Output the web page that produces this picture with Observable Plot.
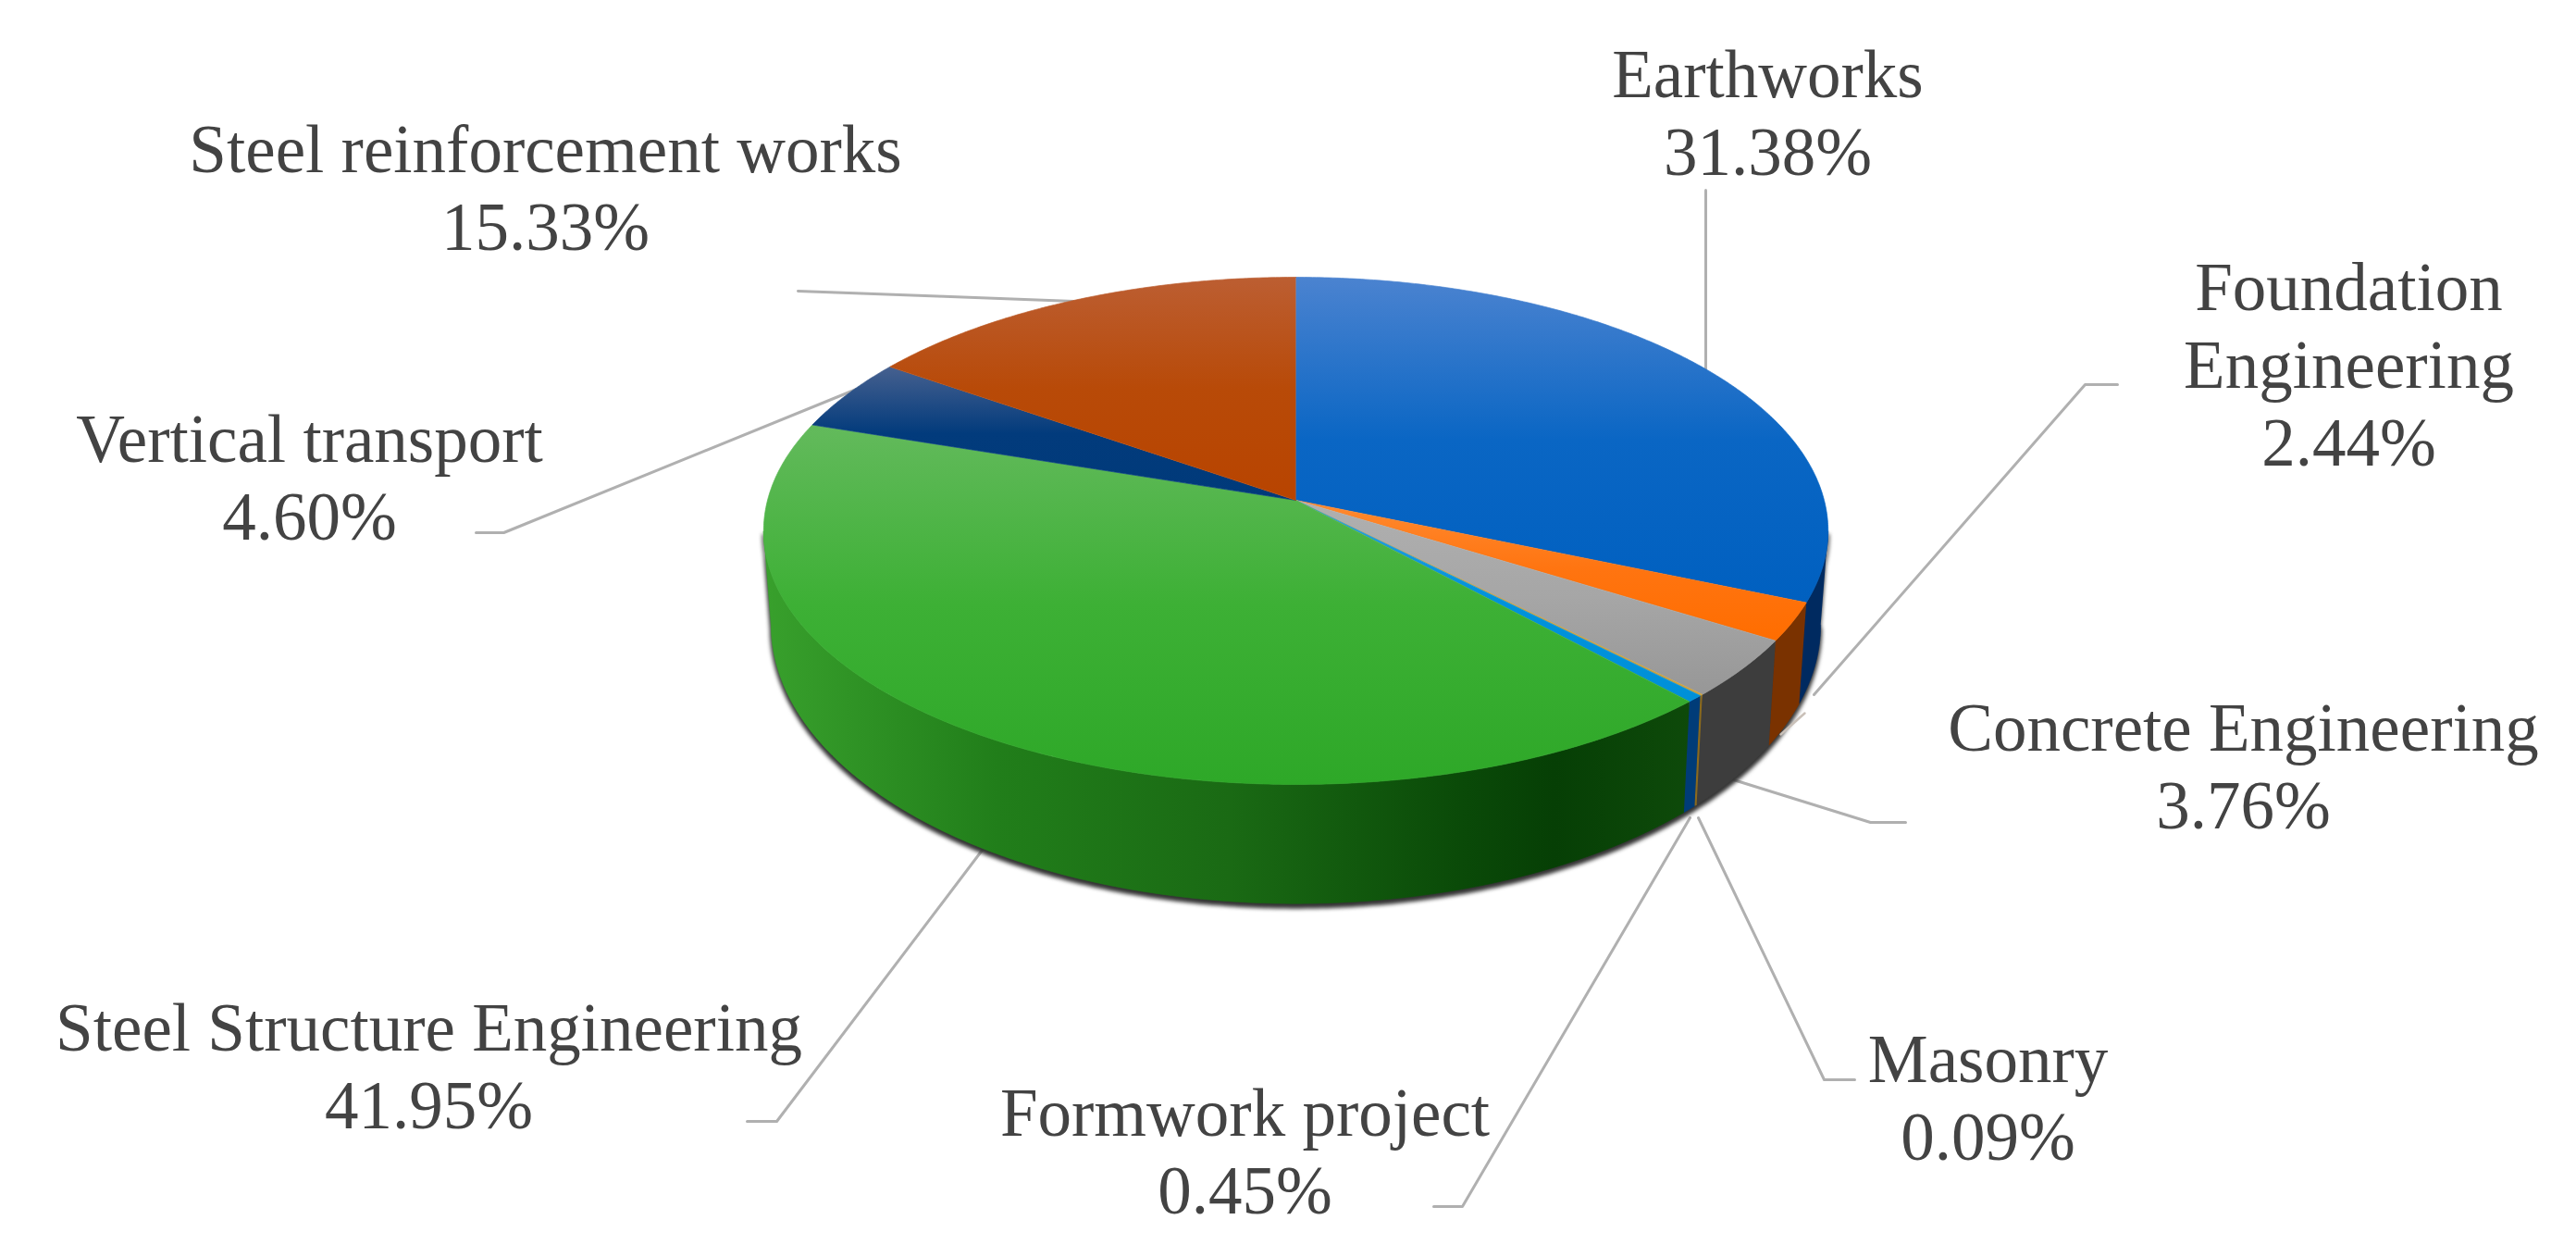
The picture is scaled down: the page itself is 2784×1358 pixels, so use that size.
<!DOCTYPE html>
<html>
<head>
<meta charset="utf-8">
<script src="https://cdn.jsdelivr.net/npm/d3@7"></script>
<script src="https://cdn.jsdelivr.net/npm/@observablehq/plot@0.6"></script>
<style>html,body{margin:0;padding:0;background:#fff}svg{display:block}</style>
</head>
<body>
<div id="chart"></div>
<script>
// ---------- values ----------
const categories = ["Earthworks", "Foundation\nEngineering", "Concrete Engineering", "Masonry", "Formwork project", "Steel Structure Engineering", "Vertical transport", "Steel reinforcement works"];
const shares = [31.38, 2.44, 3.76, 0.09, 0.45, 41.95, 4.60, 15.33];

// ---------- styles ----------
const topGradients = [
  ["#4b83d0", "#0a66c4", "#0060c0"],
  ["#ff8a30", "#ff7410", "#ff6d00"],
  ["#b0b0b0", "#a6a6a6", "#979797"],
  ["#d0a840", "#c8a040", "#c8a040"],
  ["#2a9ee0", "#0092dc", "#0090d8"],
  ["#63ba5c", "#3db035", "#2ea828"],
  ["#46608f", "#023b7c", "#003a7a"],
  ["#bc5e32", "#b84a08", "#b84400"]
];
const wallColors = ["#002a60", "#7a3200", "#3d3d3d", "#8a6a1f", "#003c78", "url(#wallGreen)", "#003a7a", "#b84400"];
const greenWallStops = [[0, "#38a02c"], [0.25, "#217e1a"], [0.5, "#1a6a14"], [0.75, "#0a4a08"], [0.85, "#063f05"], [1, "#0e4a0a"]];

// ---------- layout (pie projection and label placement) ----------
const apex = [1400, 540], perspective = 0.1204;
const topRadii = [571, 270];
const baseCentreY = 638, baseRadii = [563, 297];
const wallFrom = 97, wallTo = 263;
const labelX = [1910, 2538, 2424, 2148, 1345, 463, 334, 589];
const labelBaseline = [104, 334, 810, 1168, 1226, 1134, 498, 185];
const lineStep = 84, fontSize = 73;
const leaders = [
  [[1843, 205], [1843, 400]],
  [[2288, 415], [2253, 415], [1960, 750]],
  [[2059, 888], [2021, 888], [1873, 842]],
  [[2004, 1166], [1971, 1166], [1835, 883]],
  [[1549, 1303], [1580, 1303], [1826, 883]],
  [[807, 1211], [839, 1211], [1061, 918]],
  [[514, 575], [544, 575], [925, 420]],
  [[862, 314], [1160, 325]]
];
const leaderStub = [[1950, 770], [1924, 793]];

// ---------- geometry from the shares ----------
const rad = d => d * Math.PI / 180;
const rimTop = t => {
  const c = Math.cos(rad(t)), s = Math.sin(rad(t)), d = 1 + perspective * c;
  return {x: apex[0] + topRadii[0] * s / d, y: apex[1] - topRadii[1] * c / d};
};
const rimBase = t => {
  const c = Math.cos(rad(t)), s = Math.sin(rad(t)), d = 1 + perspective * c;
  return {x: apex[0] + baseRadii[0] * s / d, y: baseCentreY - baseRadii[1] * c / d};
};
const sweep = (a, b) => {
  const n = Math.max(2, Math.ceil((b - a) * 2)), out = [];
  for (let i = 0; i <= n; ++i) out.push(a + (b - a) * i / n);
  return out;
};
let running = 0;
const slices = shares.map((v, i) => {
  const from = running * 3.6; running += v; const to = running * 3.6;
  return {i, from, to};
});
const topFace = s => [{x: apex[0], y: apex[1]}, ...sweep(s.from, s.to).map(rimTop)];
const wallFace = s => {
  const a = Math.max(s.from, wallFrom), b = Math.min(s.to, wallTo);
  if (b <= a) return null;
  const ts = sweep(a, b);
  return [...ts.map(rimTop), ...ts.slice().reverse().map(rimBase)];
};
const bodyOutline = (() => {
  const ts = sweep(wallFrom, wallTo);
  return [...ts.map(rimTop), ...ts.slice().reverse().map(rimBase)];
})();

const pt = ([x, y]) => ({x, y});
const labelRows = categories.flatMap((name, i) => {
  const rows = [...name.split("\n"), shares[i].toFixed(2) + "%"];
  return rows.map((text, k) => ({text, x: labelX[i], y: labelBaseline[i] + k * lineStep - 0.32 * fontSize}));
});

// ---------- gradients: each slice shades over its own vertical extent ----------
function defsMark() {
  const defs = d3.create("svg:defs");
  slices.forEach(s => {
    const [y1, y2] = d3.extent(topFace(s), d => d.y);
    const g = defs.append("linearGradient").attr("id", "top" + s.i)
      .attr("gradientUnits", "userSpaceOnUse")
      .attr("x1", 0).attr("x2", 0).attr("y1", y1).attr("y2", y2);
    [0, 0.5, 1].forEach((o, k) => g.append("stop").attr("offset", o).attr("stop-color", topGradients[s.i][k]));
  });
  const w = defs.append("linearGradient").attr("id", "wallGreen")
    .attr("gradientUnits", "userSpaceOnUse")
    .attr("x1", 826).attr("x2", 1830).attr("y1", 0).attr("y2", 0);
  greenWallStops.forEach(([o, c]) => w.append("stop").attr("offset", o).attr("stop-color", c));
  return defs.node();
}

const polygon = (pts, fill, extra = {}) => Plot.line(pts, {x: "x", y: "y", fill, stroke: fill, strokeWidth: 0.7, ...extra});

const marks = [
  defsMark,
  ...leaders.map(l => Plot.line(l.map(pt), {x: "x", y: "y", stroke: "#b0b0b0", strokeWidth: 3})),
  Plot.line(bodyOutline, {x: "x", y: "y", fill: "#333", stroke: "#333", strokeWidth: 3, dy: 4, imageFilter: "blur(2px)"}),
  ...slices.map(s => [wallFace(s), s]).filter(([p]) => p).map(([p, s]) => polygon(p, wallColors[s.i])),
  Plot.line(leaderStub.map(pt), {x: "x", y: "y", stroke: "#c9c0b8", strokeWidth: 2.5}),
  ...slices.map(s => polygon(topFace(s), `url(#top${s.i})`)),
  Plot.text(labelRows, {x: "x", y: "y", text: "text", textAnchor: "middle", lineAnchor: "middle", fontFamily: "Liberation Serif", fontSize, fill: "#434343"})
];

const chart = Plot.plot({
  width: 2784, height: 1358, margin: 0,
  x: {domain: [0, 2784], range: [0, 2784], axis: null},
  y: {domain: [0, 1358], range: [0, 1358], axis: null},
  style: {background: "#fff", filter: "blur(0.6px)"},
  marks
});
document.getElementById("chart").append(chart);
</script>
</body>
</html>
